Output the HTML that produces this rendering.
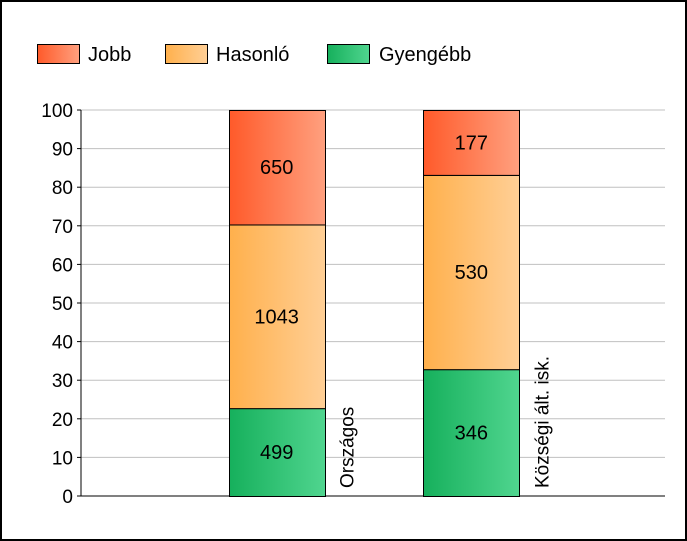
<!DOCTYPE html>
<html><head><meta charset="utf-8"><style>
body{margin:0;background:#fff;}
svg{display:block;font-family:"Liberation Sans",Arial,sans-serif;}
</style></head><body>
<svg id="c" width="687" height="541">
<defs>
<linearGradient id="gJ"><stop offset="0" stop-color="#ff5a2a"/><stop offset="1" stop-color="#ffa07f"/></linearGradient>
<linearGradient id="gH"><stop offset="0" stop-color="#ffb04c"/><stop offset="1" stop-color="#ffcf96"/></linearGradient>
<linearGradient id="gG"><stop offset="0" stop-color="#16b05c"/><stop offset="1" stop-color="#50d58f"/></linearGradient>
</defs>
<rect x="1" y="1" width="685" height="539" fill="#fff" stroke="#000" stroke-width="2"/>
<g id="legend"></g>
<g id="grid"></g>
<g id="bars"></g>
</svg>
<script>
const categories=["Országos","Községi ált. isk."];
const gyengebb=[499,346];
const hasonlo=[1043,530];
const jobb=[650,177];
const yTicks=[0,10,20,30,40,50,60,70,80,90,100];
const seriesNames=["Jobb","Hasonló","Gyengébb"];
const NS="http://www.w3.org/2000/svg";
function mk(t,a,p){const e=document.createElementNS(NS,t);for(const k in a)e.setAttribute(k,a[k]);p.appendChild(e);return e;}
const x0=81,x1=665,yTop=110,yBot=496;
const y=v=>yBot-(yBot-yTop)*v/100;
const bandW=(x1-x0)/3;
const xb=i=>x0+bandW*(i+1)+1;
const grid=document.getElementById('grid');
yTicks.forEach(t=>{
 const l=mk('line',{x1:x0,x2:x1,y1:y(t),y2:y(t),stroke:t===0?'#000':'#c0c0c0','stroke-width':1},grid);
 
 
 const tx=mk('text',{x:x0-8,y:y(t)+7,'text-anchor':'end','font-size':19},grid);tx.textContent=t;
 
 
 mk('line',{x1:x0-4,x2:x0,y1:y(t),y2:y(t),stroke:'#000'},grid);
});
const ax=mk('line',{x1:x0,x2:x0,y1:yTop,y2:yBot,stroke:'#000'},grid);


const bars=document.getElementById('bars');
const bw=96;
categories.forEach((c,i)=>{
 const tot=gyengebb[i]+hasonlo[i]+jobb[i];
 let acc=0;
 [[gyengebb,'gG','gyengebb'],[hasonlo,'gH','hasonlo'],[jobb,'gJ','jobb']].forEach(([arr,g,n])=>{
  const p0=acc/tot*100,p1=(acc+arr[i])/tot*100;acc+=arr[i];
  const bx=Math.round(xb(i)-bw/2);
  const r=mk('rect',{x:bx+0.5,y:y(p1)+0.5,width:bw,height:y(p0)-y(p1),fill:'url(#'+g+')',stroke:'#000','stroke-width':1},bars);
  
  
  const t=mk('text',{x:xb(i),y:(y(p0)+y(p1))/2+7,'text-anchor':'middle','font-size':20},bars);t.textContent=arr[i];
  
  
 });
 const lx=xb(i)+bw/2+29;
 const ct=mk('text',{x:lx,y:488,'font-size':19,transform:'rotate(-90 '+lx+' 488)'},bars);ct.textContent=c;
 
 
});
const lg=document.getElementById('legend');
const lpos=[[37,88],[165,216],[327,379]];
['gJ','gH','gG'].forEach((g,i)=>{
 const r=mk('rect',{x:lpos[i][0]+0.5,y:44.5,width:42,height:19,fill:'url(#'+g+')',stroke:'#000'},lg);
 
 
 const t=mk('text',{x:lpos[i][1],y:61,'font-size':20},lg);t.textContent=seriesNames[i];
 
 
});
</script>
</body></html>
